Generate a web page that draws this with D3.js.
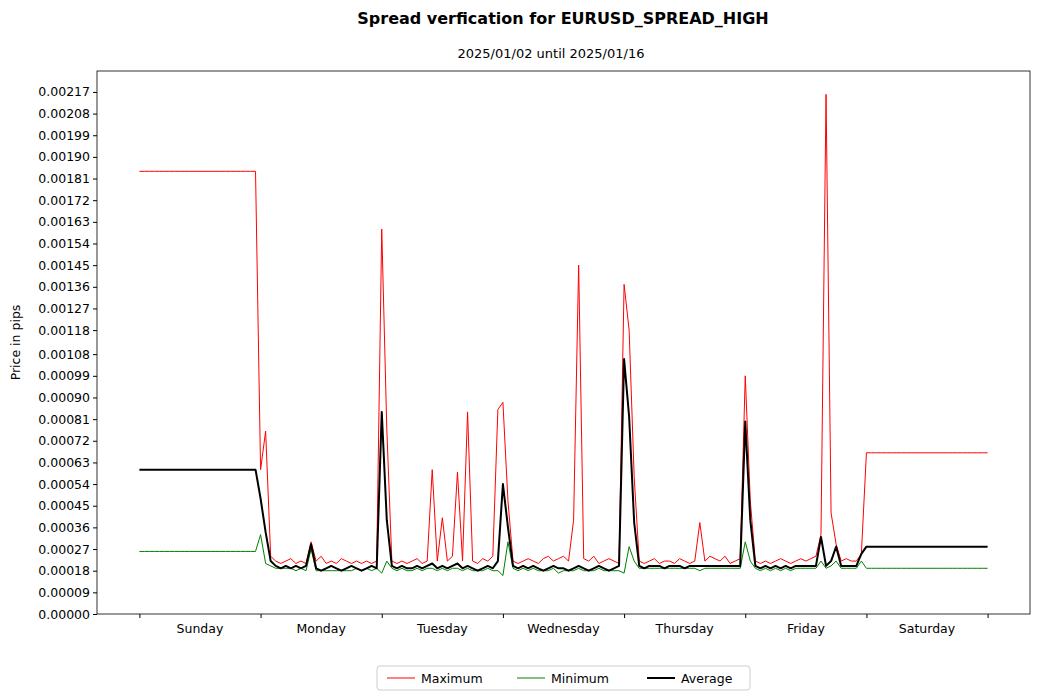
<!DOCTYPE html>
<html>
<head>
<meta charset="utf-8">
<script src="https://cdn.jsdelivr.net/npm/d3@7"></script>
<style>
  body { margin: 0; background: #fff; font-family: "DejaVu Sans", sans-serif; }
  .axis text { font-size: 12.5px; font-family: "DejaVu Sans", sans-serif; fill: #000; }
  .axis path, .axis line { stroke: #000; }
</style>
</head>
<body>
<svg id="chart" width="1039" height="700"></svg>
<script>
// hourly values in units of 0.00001, hour 0 = Sunday 00:00, hour 168 = end of Saturday
const dayNames = ['Sunday', 'Monday', 'Tuesday', 'Wednesday', 'Thursday', 'Friday', 'Saturday']

const maxValues = [
  184,184,184,184,184,184,184,184,184,184,184,184,184,184,184,184,184,184,184,184,184,184,184,184,
  60,76,24,22,21,22,23,21,22,21,30,22,24,21,22,21,23,22,21,22,21,22,21,22,
  160,77,22,21,22,21,22,23,21,22,60,22,40,22,24,59,22,84,22,21,23,22,24,85,
  88,47,22,21,22,23,22,21,23,24,22,23,24,22,39,145,23,22,24,21,22,23,22,21,
  137,118,57,22,21,22,23,21,22,22,21,23,22,21,22,38,22,24,23,22,24,21,22,23,
  99,47,22,21,22,21,22,23,22,21,22,23,22,23,24,33,216,42,29,22,23,22,22,25,
  67,67,67,67,67,67,67,67,67,67,67,67,67,67,67,67,67,67,67,67,67,67,67,67,67
]
const minValues = [
  26,26,26,26,26,26,26,26,26,26,26,26,26,26,26,26,26,26,26,26,26,26,26,26,
  33,21,20,19,19,19,19,18,19,18,27,18,18,18,18,18,18,18,18,19,18,19,18,19,
  17,22,19,18,19,18,18,19,18,19,19,18,19,18,19,19,18,19,18,18,18,19,18,18,
  16,30,19,18,19,18,19,18,18,18,19,17,18,18,18,19,18,18,18,19,18,18,18,18,
  17,28,22,19,19,19,19,19,19,19,19,19,19,19,19,18,19,19,19,19,19,19,19,19,
  30,22,19,18,19,18,19,18,19,18,19,19,19,19,19,22,19,20,22,19,19,19,19,22,
  19,19,19,19,19,19,19,19,19,19,19,19,19,19,19,19,19,19,19,19,19,19,19,19,19
]
const avgValues = [
  60,60,60,60,60,60,60,60,60,60,60,60,60,60,60,60,60,60,60,60,60,60,60,60,
  48,34,22,20,19,20,19,20,19,20,29,19,18,19,20,19,18,19,20,19,18,19,20,19,
  84,39,20,19,20,19,19,20,19,20,21,19,20,19,20,21,19,20,19,18,19,20,19,22,
  54,36,20,19,20,19,20,19,18,19,20,19,19,18,19,20,19,18,19,20,19,18,19,20,
  106,82,38,20,19,20,20,20,19,20,20,20,19,20,20,20,20,20,20,20,20,20,20,20,
  80,39,20,19,20,19,20,19,20,19,20,20,20,20,20,32,20,22,28,20,20,20,20,25,
  28,28,28,28,28,28,28,28,28,28,28,28,28,28,28,28,28,28,28,28,28,28,28,28,28
]
const yTickLabels = ['0.00000','0.00009','0.00018','0.00027','0.00036','0.00045','0.00054','0.00063',
  '0.00072','0.00081','0.00090','0.00099','0.00108','0.00118','0.00127','0.00136','0.00145','0.00154',
  '0.00163','0.00172','0.00181','0.00190','0.00199','0.00208','0.00217']

const svg = d3.select('#chart')
const plotLeft = 97, plotRight = 1030, plotTop = 71, plotBottom = 614

const x = d3.scaleLinear().domain([-7 * 0.05, 7 * 1.05]).range([plotLeft, plotRight])
const y = d3.scaleLinear().domain([0, 0.002257]).range([plotBottom, plotTop])

svg.append('text').attr('x', 563).attr('y', 24).attr('text-anchor', 'middle')
    .style('font-size', '16px').style('font-weight', 'bold').text('Spread verfication for EURUSD_SPREAD_HIGH')
svg.append('text').attr('x', 551).attr('y', 58).attr('text-anchor', 'middle')
    .style('font-size', '13px').text('2025/01/02 until 2025/01/16')

const xAxis = d3.axisBottom(x).tickValues(d3.range(8)).tickFormat('').tickSize(4)
svg.append('g').attr('class', 'axis').attr('transform', 'translate(0,' + plotBottom + ')').call(xAxis)
dayNames.forEach((d, i) => {
  svg.append('text').attr('x', x(i + 0.5)).attr('y', plotBottom + 19)
      .attr('text-anchor', 'middle').style('font-size', '12.5px').text(d)
})

const yAxis = d3.axisLeft(y).tickValues(yTickLabels.map(Number)).tickFormat((d, i) => yTickLabels[i]).tickSize(4)
svg.append('g').attr('class', 'axis').attr('transform', 'translate(' + plotLeft + ',0)').call(yAxis)
svg.selectAll('.axis .domain').remove()

svg.append('text').attr('transform', 'translate(20,' + (plotTop + plotBottom) / 2 + ') rotate(-90)')
    .attr('text-anchor', 'middle').style('font-size', '12.5px').text('Price in pips')

const line = d3.line().x((d, i) => x(i / 24)).y(d => y(d * 0.00001))

const series = [
  { name: 'Maximum', values: maxValues, color: 'red', width: 1 },
  { name: 'Minimum', values: minValues, color: 'green', width: 1 },
  { name: 'Average', values: avgValues, color: 'black', width: 2 }
]
series.forEach(s => {
  svg.append('path').datum(s.values).attr('d', line).attr('fill', 'none')
      .attr('stroke', s.color).attr('stroke-width', s.width).attr('stroke-linejoin', 'round')
})

svg.append('rect').attr('x', plotLeft).attr('y', plotTop).attr('width', plotRight - plotLeft).attr('height', plotBottom - plotTop)
    .attr('fill', 'none').attr('stroke', '#000').attr('stroke-width', 0.8)

const legend = svg.append('g').attr('transform', 'translate(377,666)')
legend.append('rect').attr('width', 373).attr('height', 24).attr('rx', 3)
    .attr('fill', '#fff').attr('stroke', '#ccc')
const offsets = [10, 140, 270]
series.forEach((s, i) => {
  legend.append('line').attr('x1', offsets[i]).attr('x2', offsets[i] + 28).attr('y1', 12).attr('y2', 12)
      .attr('stroke', s.color).attr('stroke-width', s.width)
  legend.append('text').attr('x', offsets[i] + 34).attr('y', 16.5).style('font-size', '12.5px').text(s.name)
})
</script>
</body>
</html>
